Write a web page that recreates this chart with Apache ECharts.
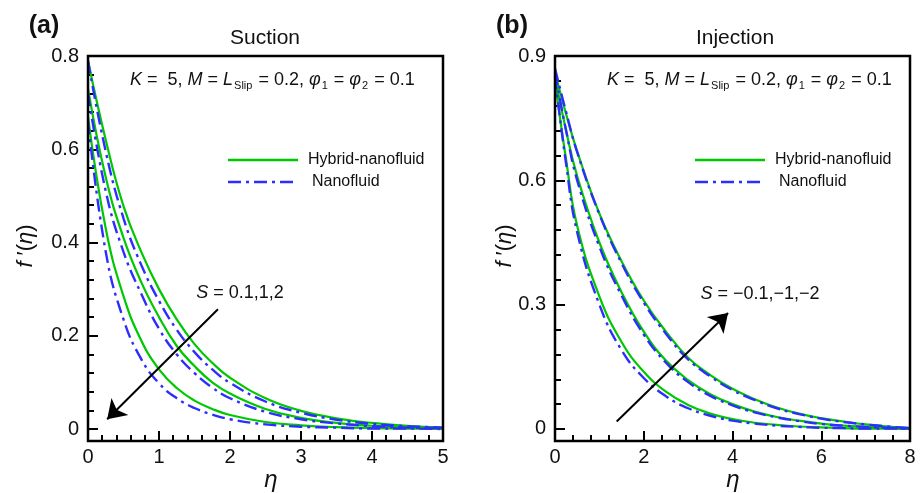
<!DOCTYPE html>
<html>
<head>
<meta charset="utf-8">
<script src="https://cdn.jsdelivr.net/npm/echarts@6/dist/echarts.min.js"></script>
<style>
  html, body { margin: 0; padding: 0; background: #fff; }
  #chart { width: 920px; height: 493px; }
</style>
</head>
<body>
<div id="chart"></div>
<script>
// ---- Suction panel (a): similarity coordinate and velocity profiles f'(eta)
const etaSuction = [0, 0.25, 0.5, 0.75, 1, 1.25, 1.5, 1.75, 2, 2.5, 3, 3.5, 4, 4.5, 5];
const hybridS01 = [0.79, 0.62, 0.478, 0.38, 0.30, 0.235, 0.182, 0.142, 0.11, 0.066, 0.039, 0.023, 0.013, 0.007, 0.003];
const nanoS01   = [0.79, 0.595, 0.452, 0.352, 0.275, 0.213, 0.165, 0.128, 0.099, 0.059, 0.035, 0.02, 0.011, 0.006, 0.003];
const hybridS1  = [0.73, 0.54, 0.41, 0.315, 0.24, 0.178, 0.135, 0.1, 0.076, 0.043, 0.024, 0.013, 0.007, 0.004, 0.002];
const nanoS1    = [0.72, 0.51, 0.38, 0.29, 0.215, 0.16, 0.12, 0.089, 0.066, 0.037, 0.021, 0.012, 0.006, 0.003, 0.002];
const hybridS2  = [0.67, 0.43, 0.285, 0.19, 0.128, 0.088, 0.061, 0.043, 0.03, 0.015, 0.008, 0.004, 0.002, 0.001, 0];
const nanoS2    = [0.66, 0.38, 0.235, 0.15, 0.098, 0.066, 0.045, 0.031, 0.021, 0.01, 0.005, 0.003, 0.001, 0.001, 0];

// ---- Injection panel (b)
const etaInjection = [0, 0.25, 0.5, 1, 1.5, 2, 2.5, 3, 3.5, 4, 4.5, 5, 5.5, 6, 6.5, 7, 7.5, 8];
const hybridSm01 = [0.84, 0.65, 0.49, 0.32, 0.21, 0.138, 0.09, 0.058, 0.037, 0.024, 0.015, 0.01, 0.006, 0.004, 0.002, 0.001, 0.001, 0];
const nanoSm01   = [0.85, 0.64, 0.475, 0.30, 0.19, 0.123, 0.079, 0.05, 0.032, 0.02, 0.013, 0.008, 0.005, 0.003, 0.002, 0.001, 0.001, 0];
const hybridSm1  = [0.85, 0.72, 0.61, 0.45, 0.33, 0.235, 0.165, 0.118, 0.084, 0.06, 0.042, 0.029, 0.02, 0.013, 0.008, 0.005, 0.003, 0.001];
const nanoSm1    = [0.86, 0.72, 0.60, 0.44, 0.322, 0.228, 0.16, 0.113, 0.08, 0.057, 0.04, 0.028, 0.019, 0.012, 0.008, 0.005, 0.003, 0.001];
const hybridSm2  = [0.86, 0.76, 0.67, 0.52, 0.405, 0.31, 0.235, 0.172, 0.13, 0.097, 0.072, 0.052, 0.037, 0.026, 0.018, 0.011, 0.006, 0.002];
const nanoSm2    = [0.87, 0.765, 0.668, 0.518, 0.40, 0.305, 0.23, 0.168, 0.127, 0.094, 0.07, 0.05, 0.036, 0.025, 0.017, 0.011, 0.006, 0.002];

// Axis ranges; the frame extends slightly below f' = 0
const rangeA = { xMin: 0, xMax: 5, xStep: 1, yMin: -0.0257, yMax: 0.8 };
const rangeB = { xMin: 0, xMax: 8, xStep: 2, yMin: -0.029, yMax: 0.9 };
// Tick values on the f' axes
const yMajorA = [0, 0.2, 0.4, 0.6, 0.8];
const yMinorA = [0.04, 0.08, 0.12, 0.16, 0.24, 0.28, 0.32, 0.36, 0.44, 0.48, 0.52, 0.56, 0.64, 0.68, 0.72, 0.76];
const yMajorB = [0, 0.3, 0.6, 0.9];
const yMinorB = [0.06, 0.12, 0.18, 0.24, 0.36, 0.42, 0.48, 0.54, 0.66, 0.72, 0.78, 0.84];

// Arrow annotations (data coordinates): [from, to]
const arrowA = [[1.83, 0.257], [0.27, 0.021]];
const arrowB = [[1.39, 0.018], [3.9, 0.28]];

const HYBRID = 'Hybrid-nanofluid';
const NANO = 'Nanofluid';

const FONT = '"Liberation Sans", Arial, Helvetica, sans-serif';
const GREEN = '#00c800';
const BLUE = '#2d2dff';
const DASHDOT = [13, 5, 3, 5];

function pairs(xs, ys) { return xs.map((x, i) => [x, ys[i]]); }

function curve(name, xs, ys, idx, nano) {
  return {
    type: 'line', name, xAxisIndex: idx, yAxisIndex: idx * 2,
    data: pairs(xs, ys),
    showSymbol: false, symbol: 'none',
    smooth: 0.45,
    silent: true, animation: false,
    z: nano ? 4 : 3,
    itemStyle: { color: nano ? BLUE : GREEN },
    lineStyle: nano ? { color: BLUE, width: 2.4, type: DASHDOT } : { color: GREEN, width: 2.2 }
  };
}

function arrowLine(a) {
  return {
    silent: true, animation: false,
    symbol: ['none', 'arrow'], symbolSize: 18,
    lineStyle: { color: '#000', width: 2, type: 'solid' },
    itemStyle: { color: '#000' },
    label: { show: false },
    emphasis: { disabled: true },
    data: [[{ coord: a[0] }, { coord: a[1] }]]
  };
}

const tickLine = { color: '#000', width: 2 };

function xAxisCfg(idx, r) {
  return {
    type: 'value', gridIndex: idx, position: 'bottom', min: r.xMin, max: r.xMax, interval: r.xStep,
    axisLine: { show: false, onZero: false },
    axisTick: { show: true, inside: true, length: 10, lineStyle: tickLine },
    minorTick: { show: true, splitNumber: 5, length: 6, lineStyle: tickLine },
    splitLine: { show: false },
    axisLabel: { color: '#111', fontSize: 20, fontFamily: FONT, margin: 6 }
  };
}

// Two y axes per grid: labelled major ticks and short minor ticks
function yAxisMajor(idx, r, major) {
  return {
    type: 'value', gridIndex: idx, position: 'left', min: r.yMin, max: r.yMax,
    axisLine: { show: false, onZero: false },
    axisTick: { show: true, inside: true, length: 10, lineStyle: tickLine, customValues: major },
    splitLine: { show: false },
    axisLabel: { color: '#111', fontSize: 20, fontFamily: FONT, margin: 9, customValues: major }
  };
}
function yAxisMinor(idx, r, minor) {
  return {
    type: 'value', gridIndex: idx, position: 'left', offset: 0, min: r.yMin, max: r.yMax,
    axisLine: { show: false, onZero: false },
    axisTick: { show: true, inside: true, length: 6, lineStyle: tickLine, customValues: minor },
    splitLine: { show: false },
    axisLabel: { show: false }
  };
}

const paramRich = {
  i: { fontStyle: 'italic', fontSize: 18, fontFamily: FONT, fill: '#111' },
  s: { fontSize: 11, fontFamily: FONT, padding: [11, 1, 0, 1], fill: '#111' }
};
const paramText = '{i|K} =  5, {i|M} = {i|L}{s|Slip} = 0.2, {i|φ}{s|1} = {i|φ}{s|2} = 0.1';
const titleRich = { i: { fontStyle: 'italic', fontSize: 22, fontFamily: FONT, fill: '#111' } };

function txt(x, y, text, opts) {
  const o = opts || {};
  return {
    type: 'text', x: x, y: y, rotation: o.rotation || 0, silent: true, z: 10,
    style: Object.assign({
      text: text, fill: '#111',
      font: (o.font || '19px') + ' ' + FONT,
      textAlign: o.align || 'center', align: o.align || 'center',
      textVerticalAlign: 'middle', verticalAlign: 'middle'
    }, o.rich ? { rich: o.rich } : {})
  };
}

function frame(x, y, w, h) {
  return {
    type: 'rect', silent: true, z: 9,
    shape: { x: x, y: y, width: w, height: h },
    style: { fill: 'none', stroke: '#000', lineWidth: 2.5 }
  };
}

// Legend key: a short line sample followed by its label
function key(x, y, label, nano) {
  return [
    { type: 'line', silent: true, z: 10,
      shape: { x1: x, y1: y, x2: x + 70, y2: y },
      style: nano ? { stroke: BLUE, lineWidth: 2.4, lineDash: DASHDOT } : { stroke: GREEN, lineWidth: 2.4 } },
    txt(x + (nano ? 84 : 80), y, label, { font: '16px', align: 'left' })
  ];
}

const chart = echarts.init(document.getElementById('chart'), null, { renderer: 'canvas' });

const option = {
  animation: false,
  backgroundColor: '#fff',
  textStyle: { fontFamily: FONT },
  grid: [
    { left: 88, top: 56, width: 355, height: 385 },
    { left: 555, top: 56, width: 355, height: 385 }
  ],
  xAxis: [xAxisCfg(0, rangeA), xAxisCfg(1, rangeB)],
  yAxis: [
    yAxisMajor(0, rangeA, yMajorA), yAxisMinor(0, rangeA, yMinorA),
    yAxisMajor(1, rangeB, yMajorB), yAxisMinor(1, rangeB, yMinorB)
  ],
  series: [
    Object.assign(curve(HYBRID, etaSuction, hybridS01, 0, false), { markLine: arrowLine(arrowA) }),
    curve(NANO, etaSuction, nanoS01, 0, true),
    curve(HYBRID, etaSuction, hybridS1, 0, false),
    curve(NANO, etaSuction, nanoS1, 0, true),
    curve(HYBRID, etaSuction, hybridS2, 0, false),
    curve(NANO, etaSuction, nanoS2, 0, true),
    Object.assign(curve(HYBRID, etaInjection, hybridSm01, 1, false), { markLine: arrowLine(arrowB) }),
    curve(NANO, etaInjection, nanoSm01, 1, true),
    curve(HYBRID, etaInjection, hybridSm1, 1, false),
    curve(NANO, etaInjection, nanoSm1, 1, true),
    curve(HYBRID, etaInjection, hybridSm2, 1, false),
    curve(NANO, etaInjection, nanoSm2, 1, true)
  ],
  graphic: [
    frame(88, 56, 355, 385),
    frame(555, 56, 355, 385),
    txt(44, 26, '(a)', { font: 'bold 25px' }),
    txt(512, 26, '(b)', { font: 'bold 25px' }),
    txt(265, 38, 'Suction', { font: '21px' }),
    txt(735, 38, 'Injection', { font: '21px' }),
    txt(130, 80, paramText, { font: '18px', align: 'left', rich: paramRich }),
    txt(607, 80, paramText, { font: '18px', align: 'left', rich: paramRich }),
    txt(240, 293, '{i|S} = 0.1,1,2', { font: '18px', rich: paramRich }),
    txt(760, 294, '{i|S} = −0.1,−1,−2', { font: '18px', rich: paramRich }),
    txt(26, 246, '{i|f} ′({i|η})', { font: '22px', rotation: Math.PI / 2, rich: titleRich }),
    txt(505, 246, '{i|f} ′({i|η})', { font: '22px', rotation: Math.PI / 2, rich: titleRich }),
    txt(271, 480, 'η', { font: 'italic 24px' }),
    txt(733, 480, 'η', { font: 'italic 24px' })
  ].concat(
    key(228, 160, HYBRID, false), key(228, 182, NANO, true),
    key(695, 160, HYBRID, false), key(695, 182, NANO, true)
  )
};

chart.setOption(option);
</script>
</body>
</html>
